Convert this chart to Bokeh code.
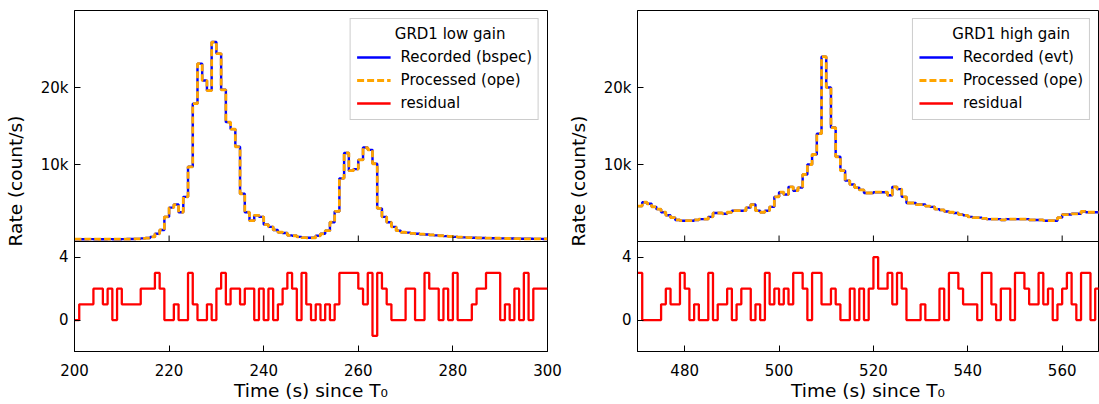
from bokeh.plotting import figure
from bokeh.models import Range1d, FixedTicker, Span, Legend, LegendItem
from bokeh.layouts import row
from bokeh.embed import file_html
from bokeh.resources import INLINE

FONT = "DejaVu Sans"

# ---------------- data ----------------
t_low_start = 200
rate_low = [
    300, 290, 300, 310, 300, 290, 300, 310, 300, 300,
    310, 320, 330, 340, 400, 450, 600, 1000, 1500, 3200,
    4400, 4800, 3800, 5800, 9700, 17900, 23100, 20900, 19600, 25900,
    24400, 19700, 15500, 14600, 12300, 6200, 3800, 2700, 3400, 3200,
    2200, 1900, 1500, 1200, 1100, 800, 750, 600, 500, 480,
    480, 750, 1000, 1400, 2500, 3900, 8200, 11500, 9200, 9400,
    10600, 12200, 11900, 10100, 4300, 3200, 2500, 1900, 1400, 1200,
    1150, 1050, 1000, 950, 900, 850, 800, 750, 700, 650,
    600, 560, 530, 500, 480, 460, 450, 440, 430, 420,
    400, 390, 380, 370, 360, 350, 350, 340, 340, 330,
]
proc_low = list(rate_low)
resid_low = [
    0, 1, 1, 1, 2, 2, 1, 2, 0, 2,
    1, 1, 1, 1, 2, 2, 2, 3, 2, 0,
    0, 1, 0, 0, 3, 1, 0, 0, 1, 0,
    2, 3, 1, 2, 2, 1, 2, 2, 0, 2,
    0, 2, 0, 1, 2, 3, 2, 0, 3, 1,
    0, 1, 0, 1, 0, 1, 3, 3, 3, 3,
    2, 1, 3, -1, 3, 2, 1, 0, 0, 0,
    2, 2, 0, 0, 3, 2, 2, 0, 2, 0,
    3, 0, 0, 0, 1, 2, 2, 3, 3, 3,
    0, 1, 0, 2, 0, 3, 0, 2, 2, 2,
]

t_high_start = 470
rate_high = [
    4600, 5100, 4900, 4500, 4200, 3800, 3400, 3100, 2800, 2700,
    2700, 2700, 2800, 2900, 2900, 3200, 3700, 3700, 3600, 3800,
    4000, 4000, 4000, 4400, 4800, 4000, 3800, 4000, 4500, 5800,
    6400, 6100, 7100, 6600, 7000, 8700, 10000, 11300, 14000, 24000,
    20000, 14800, 11000, 9200, 7900, 7400, 7000, 6700, 6300, 6300,
    6400, 6400, 6400, 6000, 7100, 6800, 5800, 5000, 5000, 4800,
    4800, 4600, 4500, 4200, 4100, 3900, 3800, 3700, 3500, 3400,
    3200, 3100, 3100, 3000, 2900, 2900, 2900, 2800, 2900, 2900,
    2900, 2900, 2900, 2800, 2800, 2800, 2700, 2700, 2700, 3100,
    3500, 3500, 3600, 3600, 3900, 3800, 3800, 3800, 3800, 3800,
]
proc_high = list(rate_high)
resid_high = [
    3, 0, 0, 0, 0, 1, 2, 1, 1, 3,
    2, 0, 1, 0, 0, 3, 0, 1, 1, 2,
    0, 1, 2, 2, 0, 1, 0, 3, 1, 2,
    1, 2, 1, 3, 3, 2, 0, 3, 3, 1,
    1, 2, 1, 0, 0, 2, 0, 2, 0, 2,
    4, 2, 2, 3, 1, 3, 2, 0, 0, 0,
    1, 0, 0, 0, 2, 0, 3, 3, 2, 1,
    1, 1, 0, 3, 3, 1, 0, 2, 2, 0,
    3, 3, 2, 1, 1, 3, 1, 2, 0, 1,
    2, 3, 1, 0, 3, 3, 0, 2, 2, 2,
]

rate_ticks = [10000, 20000]
rate_tick_labels = ["10k", "20k"]
resid_ticks = [0, 4]
resid_tick_labels = ["0", "4"]
x_ticks_low = [200, 220, 240, 260, 280, 300]
x_ticks_high = [480, 500, 520, 540, 560]

# ---------------- layout constants ----------------
RATE_MAX = 30000
RES_MIN, RES_MAX = -2, 5
TOP_H, BOT_H = 231, 110
TICK_LEN = 6
NBSP = "\u00a0"


def make_panel(t0, rate, proc, resid, xr, xticks, title, title_indent, rec_label,
               frame_w, border_left, border_right):
    n = len(rate)
    edges = [t0 + i for i in range(n + 1)]
    rate_y = rate + [rate[-1]]
    proc_y = proc + [proc[-1]]
    res_y = resid + [resid[-1]]

    frame_h = TOP_H + BOT_H
    main_start = -RATE_MAX * BOT_H / TOP_H
    res_end = RES_MIN + (RES_MAX - RES_MIN) * frame_h / BOT_H

    p = figure(frame_width=frame_w, frame_height=frame_h,
               x_range=Range1d(*xr), y_range=Range1d(main_start, RATE_MAX),
               output_backend="svg", toolbar_location=None,
               min_border_left=border_left, min_border_right=border_right,
               min_border_top=10, min_border_bottom=49)
    p.extra_y_ranges = {"res": Range1d(RES_MIN, res_end)}
    p.grid.visible = False
    p.outline_line_color = "black"
    p.outline_line_alpha = 1
    p.outline_line_width = 1
    p.background_fill_color = "white"
    p.border_fill_color = "white"

    r_rec = p.step(edges, rate_y, mode="after", line_color="blue", line_width=2.4)
    r_proc = p.step(edges, proc_y, mode="after", line_color="orange",
                    line_width=2.8, line_dash="7 3")
    r_res = p.step(edges, res_y, mode="after", line_color="red",
                   line_width=2.3, y_range_name="res")

    # panel divider
    p.add_layout(Span(location=0, dimension="width", line_color="black", line_width=1))
    # inward x ticks on the bottom of the upper panel
    tl = TICK_LEN * RATE_MAX / TOP_H
    p.segment(x0=xticks, y0=[0] * len(xticks), x1=xticks, y1=[tl] * len(xticks),
              line_color="black", line_width=1)

    # axes
    xa = p.xaxis[0]
    xa.ticker = FixedTicker(ticks=xticks)
    xa.axis_label = "Time (s) since T\u2080"
    ya = p.yaxis[0]

    def res_to_main(v):
        return main_start + (v - RES_MIN) / (res_end - RES_MIN) * (RATE_MAX - main_start)
    res_pos = [res_to_main(v) for v in resid_ticks]
    ya.ticker = FixedTicker(ticks=res_pos + rate_ticks)
    overrides = {}
    for pos, lab in zip(res_pos, resid_tick_labels):
        overrides[pos] = lab
    for pos, lab in zip(rate_ticks, rate_tick_labels):
        overrides[pos] = lab
    ya.major_label_overrides = overrides
    ya.axis_label = "Rate (count/s)"

    for ax in (xa, ya):
        ax.major_tick_in = TICK_LEN
        ax.major_tick_out = 0
        ax.minor_tick_line_color = None
        ax.axis_line_color = "black"
        ax.major_tick_line_color = "black"
        ax.major_label_text_font = FONT
        ax.major_label_text_font_size = "15px"
        ax.major_label_text_color = "black"
        ax.axis_label_text_font = FONT
        ax.axis_label_text_font_size = "18.5px"
        ax.axis_label_text_font_style = "normal"
        ax.axis_label_text_color = "black"
    xa.major_label_standoff = 12
    xa.axis_label_standoff = 1
    ya.major_label_standoff = 6
    ya.axis_label_standoff = 12

    legend = Legend(items=[
        LegendItem(label=rec_label, renderers=[r_rec]),
        LegendItem(label="Processed (ope)", renderers=[r_proc]),
        LegendItem(label="residual", renderers=[r_res]),
    ], title=NBSP * title_indent + title, location="top_right")
    legend.label_text_font = FONT
    legend.label_text_font_size = "15px"
    legend.label_text_color = "black"
    legend.title_text_font = FONT
    legend.title_text_font_size = "15px"
    legend.title_text_font_style = "normal"
    legend.title_text_color = "black"
    legend.border_line_color = "#cccccc"
    legend.border_line_alpha = 1
    legend.background_fill_alpha = 0.8
    legend.glyph_width = 34
    legend.glyph_height = 20
    legend.label_height = 20
    legend.label_standoff = 10
    legend.spacing = 3
    legend.padding = 6
    legend.margin = 8
    legend.title_standoff = 4
    p.add_layout(legend)
    return p


p1 = make_panel(t_low_start, rate_low, proc_low, resid_low, (200, 300), x_ticks_low,
                "GRD1 low gain", 8, "Recorded (bspec)", 473, 74, 17)
p2 = make_panel(t_high_start, rate_high, proc_high, resid_high, (470, 567.7), x_ticks_high,
                "GRD1 high gain", 7, "Recorded (evt)", 461, 72, 2)

layout = row(p1, p2)
open("out.html", "w").write(file_html(layout, INLINE))
